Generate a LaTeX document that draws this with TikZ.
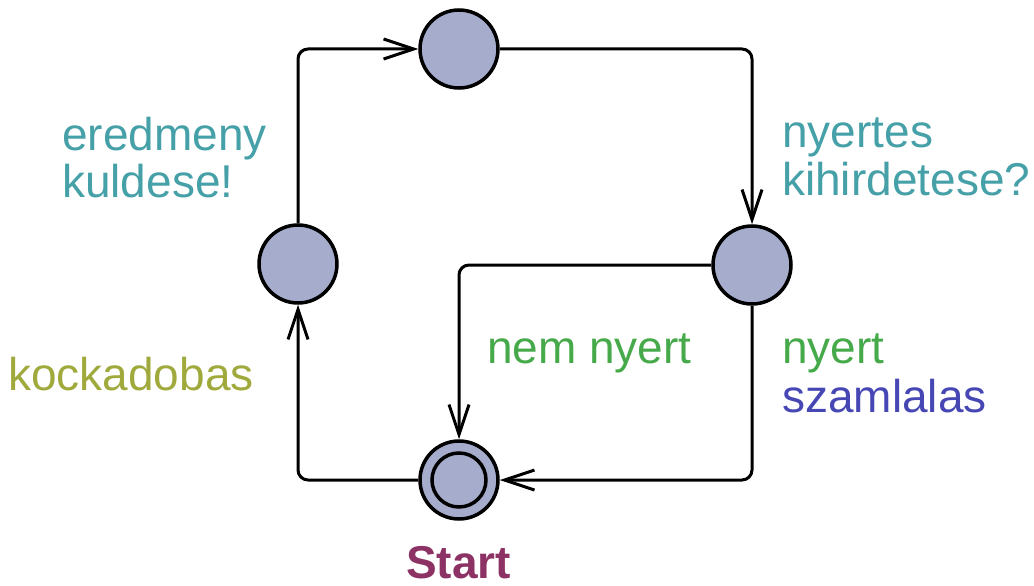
\documentclass[tikz,border=0pt]{standalone}
\usepackage{fontspec}
\setmainfont{Liberation Sans}
\usetikzlibrary{arrows.meta}
\definecolor{nodefill}{RGB}{165,172,204}
\definecolor{tealtxt}{RGB}{70,160,168}
\definecolor{olivetxt}{RGB}{160,170,60}
\definecolor{greentxt}{RGB}{70,170,75}
\definecolor{bluetxt}{RGB}{70,70,180}
\definecolor{starttxt}{RGB}{140,50,100}
\tikzset{
  loc/.style={circle, draw=black, fill=nodefill, line width=3.5pt, minimum size=78pt, inner sep=0pt},
  edge/.style={line width=3pt, rounded corners=10pt, -{Straight Barb[length=30pt,width=20pt,line width=3pt]}},
  lbl/.style={anchor=base west, inner sep=0pt, font=\fontsize{46}{48}\selectfont},
}
\begin{document}
\begin{tikzpicture}[x=1pt,y=-1pt]
\useasboundingbox (0,0) rectangle (1034,586);
\node[loc] (top) at (459,49) {};
\node[loc] (left) at (298,264) {};
\node[loc] (right) at (752,265) {};
\node[loc] (start) at (459,480) {};
\node[circle, draw=black, line width=3.5pt, minimum size=54pt, inner sep=0pt] (startin) at (start) {};

\draw[edge] (start.west) -| (left.south);
\draw[edge] (left.north) |- (top.west);
\draw[edge] (top.east) -| (right.north);
\draw[edge] (right.west) -| (start.north);
\draw[edge] (right.south) |- (start.east);

\node[lbl, text=tealtxt] (l1) at (62,150) {eredmeny};
\node[lbl, text=tealtxt] (l2) at (62,197) {kuldese!};
\node[lbl, text=olivetxt] (l3) at (8,390) {kockadobas};
\node[lbl, text=tealtxt] (l4) at (782,147) {nyertes};
\node[lbl, text=tealtxt] (l5) at (782,195) {kihirdetese?};
\node[lbl, text=greentxt] (l6) at (487,363) {nem nyert};
\node[lbl, text=greentxt] (l7) at (782,363) {nyert};
\node[lbl, text=bluetxt] (l8) at (782,412) {szamlalas};
\node[lbl, text=starttxt, font=\fontsize{46}{48}\selectfont\bfseries] (l9) at (406,578) {Start};
\end{tikzpicture}
\end{document}
